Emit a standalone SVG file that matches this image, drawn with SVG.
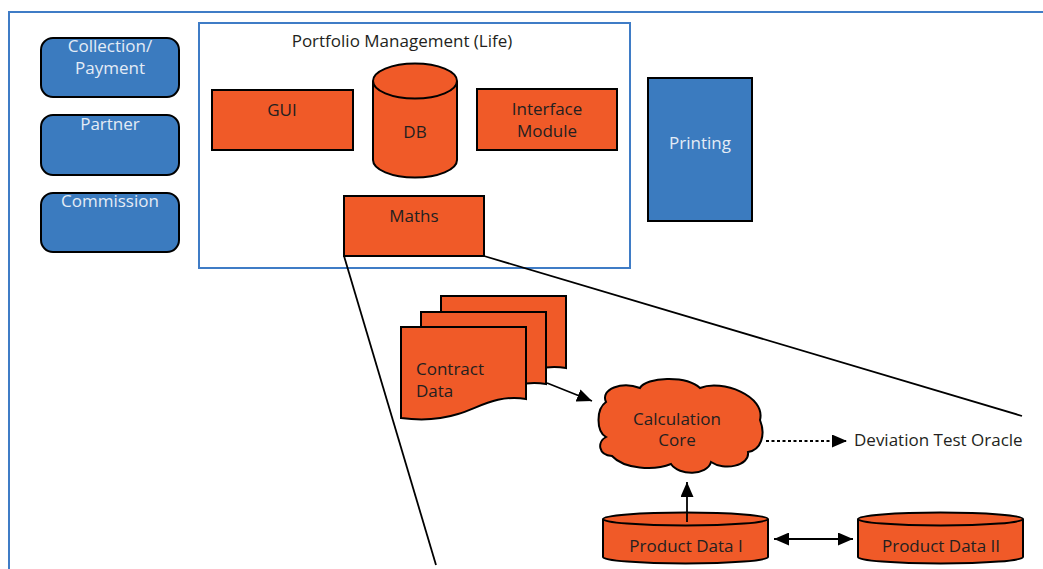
<svg xmlns="http://www.w3.org/2000/svg" width="1043" height="569" viewBox="0 0 1043 569">
<defs>
<style>
.t{font-family:"Open Sans","Liberation Sans",sans-serif;font-size:17px;text-anchor:middle;fill:#231f20}
.tl{font-family:"Open Sans","Liberation Sans",sans-serif;font-size:17px;text-anchor:middle;fill:#e4ecf6}
.or{fill:#f05a28;stroke:#000;stroke-width:2}
.bl{fill:#3b7bbf;stroke:#000;stroke-width:2}
.frame{fill:none;stroke:#3f7cc6;stroke-width:2}
.ln{fill:none;stroke:#000;stroke-width:1.8}
</style>
<marker id="ahb" viewBox="0 0 10 10" refX="10" refY="5" markerWidth="15" markerHeight="13" orient="auto-start-reverse" markerUnits="userSpaceOnUse" preserveAspectRatio="none">
<path d="M0,0 L10,5 L0,10 Z" fill="#000"/>
</marker>
</defs>
<rect width="1043" height="569" fill="#fff"/>
<g id="outer-frame">
<path class="frame" d="M9,569 V12 H1043"/>
</g>
<g id="portfolio-management">
<rect class="frame" x="199" y="23" width="431" height="245"/>
<text class="t" x="402" y="47">Portfolio Management (Life)</text>
</g>
<g id="collection-payment">
<rect class="bl" x="41" y="38" width="138" height="59" rx="12"/>
<text class="tl" x="110" y="52">Collection/</text>
<text class="tl" x="110" y="74">Payment</text>
</g>
<g id="partner">
<rect class="bl" x="41" y="115" width="138" height="60" rx="12"/>
<text class="tl" x="110" y="130">Partner</text>
</g>
<g id="commission">
<rect class="bl" x="41" y="193" width="138" height="59" rx="12"/>
<text class="tl" x="110" y="207">Commission</text>
</g>
<g id="gui">
<rect class="or" x="212" y="90" width="141" height="60"/>
<text class="t" x="282" y="116">GUI</text>
</g>
<g id="db">
<path class="or" d="M373,81 A42,17.5 0 0 1 457,81 V160 A42,17.5 0 0 1 373,160 Z"/>
<path class="ln" style="stroke-width:2" d="M373,81 A42,17.5 0 0 0 457,81"/>
<text class="t" x="415" y="138">DB</text>
</g>
<g id="interface-module">
<rect class="or" x="477" y="89" width="140" height="61"/>
<text class="t" x="547" y="115">Interface</text>
<text class="t" x="547" y="137">Module</text>
</g>
<g id="maths">
<rect class="or" x="344" y="196" width="140" height="60"/>
<text class="t" x="414" y="222">Maths</text>
</g>
<g id="printing">
<rect class="bl" x="648" y="78" width="104" height="143"/>
<text class="tl" x="700" y="149">Printing</text>
</g>
<g id="contract-data">
<path class="or" transform="translate(40,-31)" d="M401,327 H526 V399 C 498,394 478,408 458,414 C 436,421 416,420 401,418 Z"/>
<path class="or" transform="translate(20,-15)" d="M401,327 H526 V399 C 498,394 478,408 458,414 C 436,421 416,420 401,418 Z"/>
<path class="or" d="M401,327 H526 V399 C 498,394 478,408 458,414 C 436,421 416,420 401,418 Z"/>
<text class="t" x="416" y="375" style="text-anchor:start">Contract</text>
<text class="t" x="416" y="397" style="text-anchor:start">Data</text>
</g>
<g id="calculation-core">
<path class="or" d="M606,402 C 600,389 622,381 640,388 C 646,377 686,375 700,388 C 722,379 766,396 760,420 C 766,435 761,450 748,452 C 750,466 724,471 711,462 C 707,476 679,476 671,464 C 654,471 624,469 612,456 C 598,455 597,442 606,437 C 596,431 596,409 606,402 Z"/>
<text class="t" x="677" y="425">Calculation</text>
<text class="t" x="677" y="446">Core</text>
</g>
<g id="deviation-test-oracle">
<text class="t" x="854" y="446" style="text-anchor:start">Deviation Test Oracle</text>
</g>
<g id="product-data-1">
<path class="or" d="M603,519 A82.5,6.5 0 0 1 768,519 V557 A82.5,6.5 0 0 1 603,557 Z"/>
<path class="ln" style="stroke-width:2" d="M603,519 A82.5,6.5 0 0 0 768,519"/>
<text class="t" x="686" y="552">Product Data I</text>
</g>
<g id="product-data-2">
<path class="or" d="M858,519 A82.5,6.5 0 0 1 1023,519 V557 A82.5,6.5 0 0 1 858,557 Z"/>
<path class="ln" style="stroke-width:2" d="M858,519 A82.5,6.5 0 0 0 1023,519"/>
<text class="t" x="941" y="552">Product Data II</text>
</g>
<g id="connectors">
<line class="ln" x1="344" y1="256" x2="436" y2="565"/>
<line class="ln" x1="484" y1="256" x2="1022" y2="416"/>
<line class="ln" x1="547" y1="383" x2="592" y2="401" marker-end="url(#ahb)"/>
<line class="ln" x1="766" y1="441" x2="847" y2="441" stroke-dasharray="3,2.5" marker-end="url(#ahb)"/>
<line class="ln" x1="687" y1="522" x2="687" y2="482" marker-end="url(#ahb)"/>
<line class="ln" x1="774" y1="539" x2="853" y2="539" marker-start="url(#ahb)" marker-end="url(#ahb)"/>
</g>
</svg>
